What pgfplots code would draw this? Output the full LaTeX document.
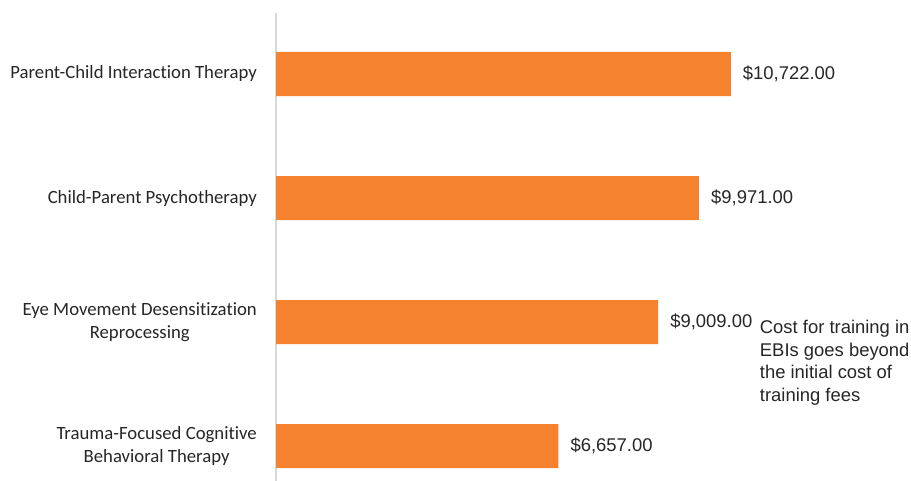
\documentclass[border=0pt]{standalone}
\usepackage{fontspec}
\setmainfont{Carlito}[Ligatures=NoCommon]
\newfontfamily\arial{Liberation Sans}
\usepackage{pgfplots}
\pgfplotsset{compat=1.18}
\definecolor{barorange}{RGB}{244,130,46}
\definecolor{axisgray}{RGB}{217,217,217}
\begin{document}
\begin{tikzpicture}
\path[use as bounding box] (0bp,0bp) rectangle (911bp,481bp);
\begin{axis}[
  at={(276bp,0bp)}, anchor=south west,
  scale only axis, width=509bp, height=468bp,
  xbar, bar width=0.355,
  xmin=0, xmax=12000, ymin=-0.282, ymax=3.492,
  axis x line=none, axis y line*=left,
  y axis line style={axisgray, line width=1.2bp, -},
  ytick={0,1,2,3},
  yticklabels={Trauma-Focused Cognitive\\Behavioral Therapy, Eye Movement Desensitization\\Reprocessing, Child-Parent Psychotherapy, Parent-Child Interaction Therapy},
  major tick length=0,
  yticklabel style={font=\fontsize{18.8}{22.5}\selectfont, align=center, text=black!85, inner sep=0pt, xshift=-19bp},
  clip=false,
  nodes near coords, point meta=explicit symbolic,
  nodes near coords style={font=\arial\fontsize{18.5}{23}\selectfont, anchor=west, inner sep=0pt, xshift=12bp, text=black!85},
]
\addplot[fill=barorange, draw=none] coordinates {
  (6657,0) [\$6,657.00]
  (9009,1) [\$9,009.00]
  (9971,2) [\$9,971.00]
  (10722,3) [\$10,722.00]
};
\node[anchor=north west, align=left, font=\arial\fontsize{18.5}{23}\selectfont, inner sep=0pt, text=black!85] at (axis cs:11404,1.02) {Cost for training in\\EBIs goes beyond\\the initial cost of\\training fees};
\end{axis}
\end{tikzpicture}
\end{document}
